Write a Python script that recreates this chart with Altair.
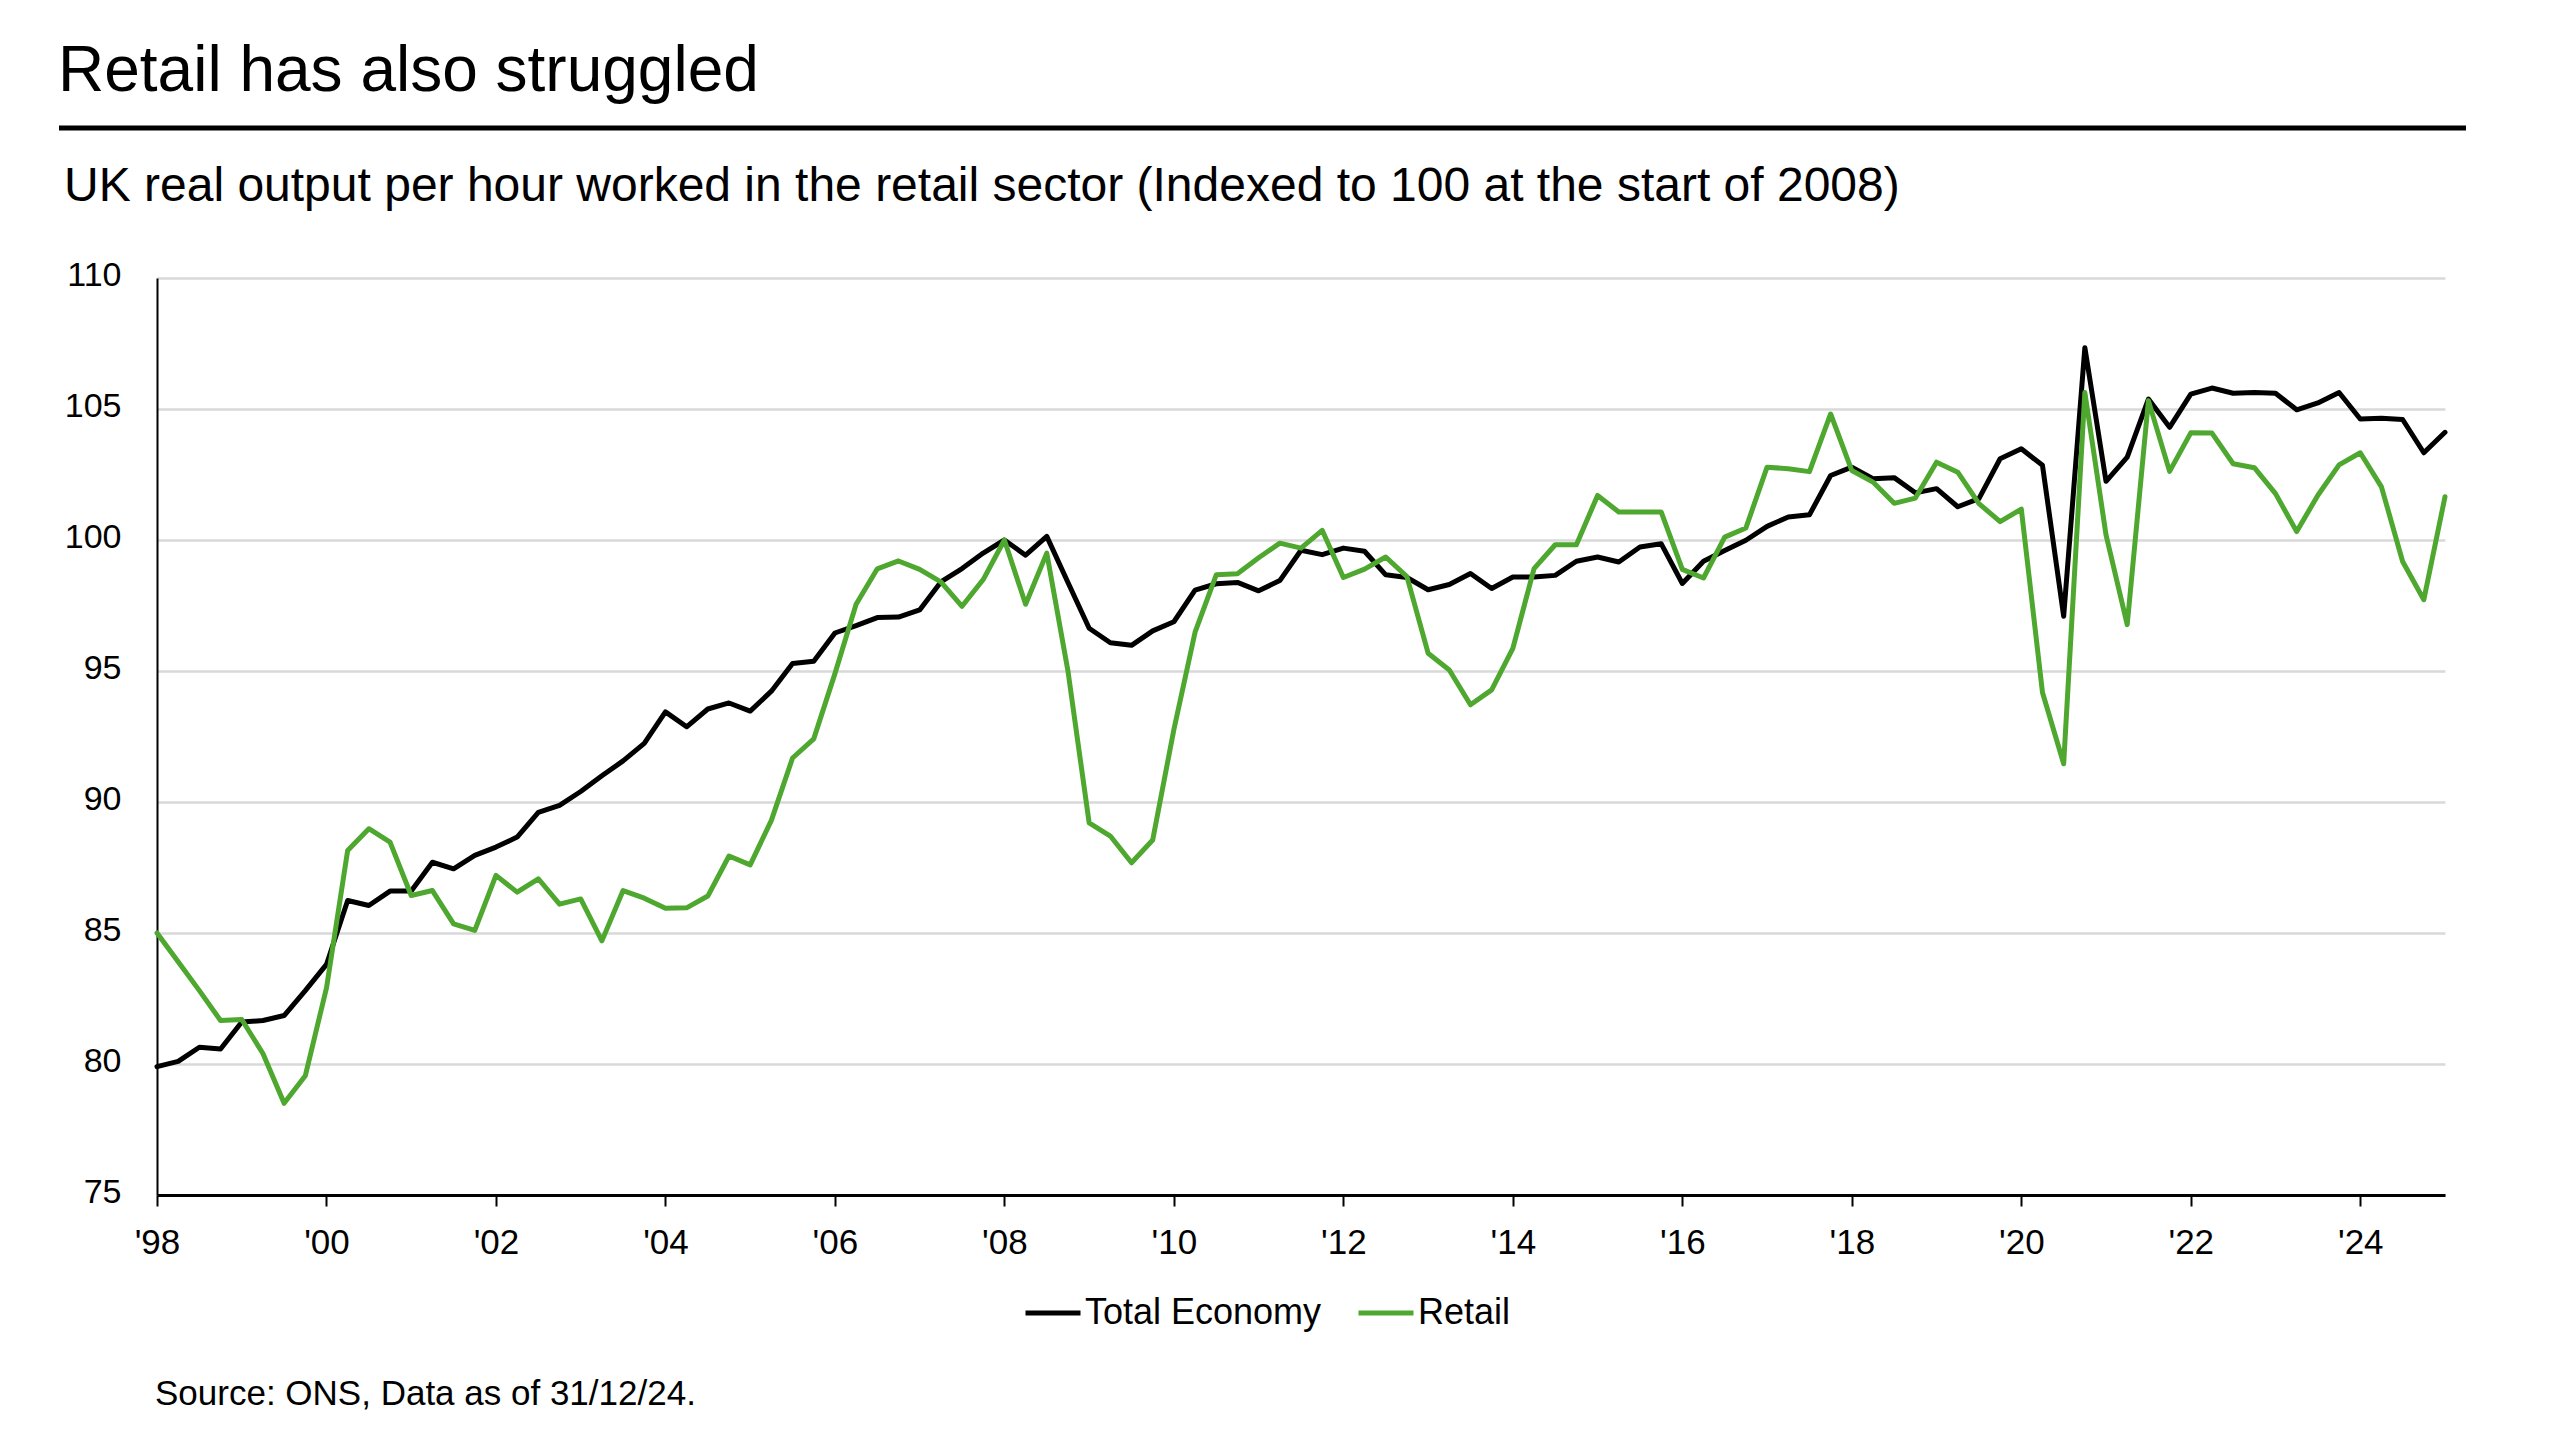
import altair as alt
import pandas as pd

# Quarterly, 1998 Q1 .. 2025 Q1 (109 points)
quarters = [f"{y} Q{q}" for y in range(1998, 2026) for q in range(1, 5)][:109]

total_economy = [
    79.9, 80.1, 80.64, 80.57, 81.6, 81.66, 81.85, 82.8, 83.8, 86.24,
    86.05, 86.6, 86.6, 87.7, 87.45, 87.96, 88.28, 88.66, 89.6, 89.87,
    90.4, 91.0, 91.57, 92.24, 93.44, 92.87, 93.55, 93.78, 93.47, 94.23,
    95.29, 95.37, 96.45, 96.73, 97.04, 97.06, 97.33, 98.4, 98.91, 99.5,
    100.0, 99.42, 100.14, 98.38, 96.63, 96.08, 95.98, 96.53, 96.88, 98.09,
    98.33, 98.38, 98.06, 98.45, 99.61, 99.44, 99.69, 99.57, 98.67, 98.57,
    98.1, 98.3, 98.72, 98.15, 98.59, 98.59, 98.65, 99.19, 99.35, 99.16,
    99.73, 99.86, 98.34, 99.19, 99.6, 99.99, 100.52, 100.88, 100.96, 102.46,
    102.78, 102.34, 102.38, 101.8, 101.96, 101.27, 101.58, 103.1, 103.48, 102.85,
    97.09, 107.34, 102.24, 103.16, 105.38, 104.3, 105.57, 105.8, 105.6, 105.63,
    105.6, 104.97, 105.23, 105.63, 104.62, 104.65, 104.6, 103.33, 104.11,
]

retail = [
    85.0, 83.9, 82.8, 81.66, 81.7, 80.4, 78.5, 79.55, 82.9, 88.15,
    88.98, 88.47, 86.43, 86.62, 85.35, 85.1, 87.2, 86.56, 87.07, 86.1,
    86.3, 84.7, 86.62, 86.33, 85.94, 85.96, 86.41, 87.94, 87.6, 89.3,
    91.68, 92.41, 94.9, 97.55, 98.9, 99.2, 98.88, 98.4, 97.47, 98.49,
    100.0, 97.55, 99.5, 95.0, 89.2, 88.7, 87.68, 88.55, 92.77, 96.48,
    98.67, 98.71, 99.32, 99.88, 99.69, 100.37, 98.57, 98.89, 99.35, 98.6,
    95.68, 95.04, 93.71, 94.28, 95.86, 98.91, 99.82, 99.82, 101.7, 101.07,
    101.07, 101.07, 98.88, 98.55, 100.11, 100.46, 102.78, 102.72, 102.61, 104.81,
    102.65, 102.21, 101.4, 101.6, 102.97, 102.59, 101.39, 100.7, 101.18, 94.18,
    91.46, 105.63, 100.19, 96.77, 105.32, 102.62, 104.09, 104.08, 102.91, 102.76,
    101.77, 100.32, 101.71, 102.87, 103.33, 102.03, 99.18, 97.72, 101.65,
]

series_names = ["Total Economy", "Retail"]
series_colors = ["#000000", "#4EA72E"]
tick_years = list(range(1998, 2025, 2))
y_ticks = [75, 80, 85, 90, 95, 100, 105, 110]

title_text = "Retail has also struggled"
subtitle_text = "UK real output per hour worked in the retail sector (Indexed to 100 at the start of 2008)"
source_text = "Source: ONS, Data as of 31/12/24."

FONT = "Liberation Sans, Arial, Helvetica, sans-serif"


def qpos(label):
    y, q = label.split(" Q")
    return int(y) + (int(q) - 1) / 4.0


rows = []
for name, vals in zip(series_names, [total_economy, retail]):
    for lab, v in zip(quarters, vals):
        rows.append({"quarter": lab, "t": qpos(lab), "value": v, "series": name})
df = pd.DataFrame(rows)

color = alt.Color(
    "series:N",
    scale=alt.Scale(domain=series_names, range=series_colors),
    legend=alt.Legend(
        title=None,
        orient="none",
        legendX=866,
        legendY=1005,
        direction="horizontal",
        symbolType="stroke",
        symbolSize=3025,
        symbolStrokeWidth=5,
        labelFontSize=36,
        labelFont=FONT,
        labelColor="#000000",
        labelOffset=2,
        columnPadding=26,
        labelLimit=600,
    ),
)

x_enc = alt.X(
    "t:Q",
    scale=alt.Scale(domain=[1998, 2025], nice=False, zero=False),
    axis=alt.Axis(
        title=None,
        values=tick_years,
        labelExpr="\"'\" + substring(toString(datum.value), 2, 4)",
        grid=False,
        domainColor="#000000",
        domainWidth=3,
        ticks=True,
        tickColor="#000000",
        tickSize=11,
        tickWidth=2,
        labelFontSize=35,
        labelFont=FONT,
        labelColor="#000000",
        labelPadding=19,
        labelFlush=False,
        labelOverlap=False,
    ),
)

y_enc = alt.Y(
    "value:Q",
    scale=alt.Scale(domain=[75, 110], nice=False, zero=False),
    axis=alt.Axis(
        title=None,
        values=y_ticks,
        grid=True,
        gridColor="#d9d9d9",
        gridWidth=2.5,
        domainColor="#000000",
        domainWidth=2,
        ticks=False,
        labelFontSize=34,
        labelFont=FONT,
        labelColor="#000000",
        labelPadding=36,
        labelOffset=-3,
    ),
)

base = alt.Chart(df)
line_total = base.transform_filter(alt.datum.series == "Total Economy").mark_line(
    strokeWidth=5, strokeJoin="round", strokeCap="round"
).encode(x=x_enc, y=y_enc, color=color, order="t:Q")
line_retail = base.transform_filter(alt.datum.series == "Retail").mark_line(
    strokeWidth=5, strokeJoin="round", strokeCap="round"
).encode(x=x_enc, y=y_enc, color=color, order="t:Q")

title = alt.Chart(alt.Data(values=[{"label": title_text}])).mark_text(
    align="left", baseline="alphabetic", fontSize=64, font=FONT, color="#000000"
).encode(x=alt.value(-99), y=alt.value(-187), text="label:N")

rule = alt.Chart(alt.Data(values=[{"k": 1}])).mark_rule(
    color="#000000", strokeWidth=5
).encode(x=alt.value(-98), x2=alt.value(2309), y=alt.value(-150))

subtitle = alt.Chart(alt.Data(values=[{"label": subtitle_text}])).mark_text(
    align="left", baseline="alphabetic", fontSize=48, font=FONT, color="#000000"
).encode(x=alt.value(-93), y=alt.value(-77), text="label:N")

source = alt.Chart(alt.Data(values=[{"label": source_text}])).mark_text(
    align="left", baseline="alphabetic", fontSize=35, font=FONT, color="#000000"
).encode(x=alt.value(-2), y=alt.value(1127), text="label:N")

chart = alt.layer(line_total, line_retail, title, rule, subtitle, source).properties(
    width=2288,
    height=917,
    padding={"left": 149, "top": 270, "right": 100, "bottom": 230},
    autosize=alt.AutoSizeParams(type="none"),
    background="#ffffff",
).configure_view(stroke=None)

chart.save("out.html", embed_options={"renderer": "svg", "actions": False})
